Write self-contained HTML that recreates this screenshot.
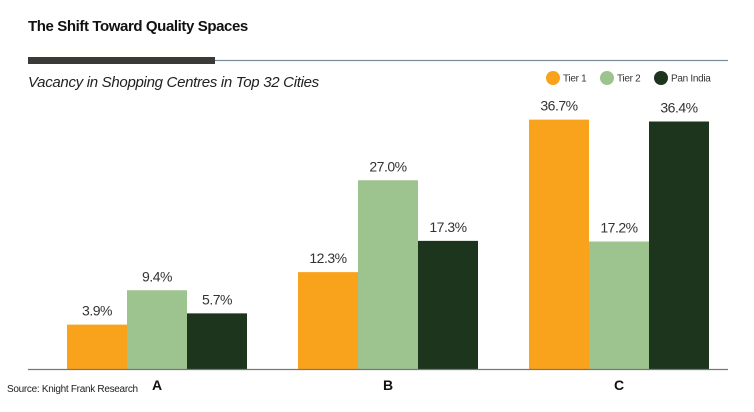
<!DOCTYPE html>
<html><head><meta charset="utf-8"><style>
body{margin:0;background:#fff;font-family:"Liberation Sans",sans-serif;}
svg text{font-family:"Liberation Sans",sans-serif;}
</style></head><body>
<svg width="754" height="407" viewBox="0 0 754 407">
<text x="28" y="31" font-size="15" font-weight="bold" fill="#111" letter-spacing="-0.4">The Shift Toward Quality Spaces</text>
<line x1="215" y1="60.5" x2="728" y2="60.5" stroke="#7a8fa0" stroke-width="1.2"/>
<rect x="28" y="57" width="187" height="7" fill="#3a3a38"/>
<text x="28" y="87" font-size="15" font-style="italic" fill="#222" letter-spacing="-0.3">Vacancy in Shopping Centres in Top 32 Cities</text>
<g id="legend"></g>
<g id="bars"></g>
<line x1="28" y1="369.5" x2="728" y2="369.5" stroke="#777" stroke-width="1.2"/>
<g id="xlabels"></g>
<text x="7" y="392" font-size="10" fill="#222" letter-spacing="-0.3">Source: Knight Frank Research</text>
</svg>
<script>
const categories = ["A","B","C"];
const seriesNames = ["Tier 1","Tier 2","Pan India"];
const tier1 = [3.9, 12.3, 36.7];
const tier2 = [9.4, 27.0, 17.2];
const panIndia = [5.7, 17.3, 36.4];
const colors = ["#f8a31b","#9dc48f","#1c351c"];
const series = [tier1, tier2, panIndia];
const NS = "http://www.w3.org/2000/svg";
const baseY = 369, pxPerUnit = 6.25, offsetPx = 20;
const groupStart = 67, groupStep = 231, barW = 60;
function yScale(v){ return baseY - (v > 0 ? offsetPx + v*pxPerUnit : 0); }
function xScale(ci, si){ return groupStart + ci*groupStep + si*barW; }
function mk(tag, attrs){ const e=document.createElementNS(NS,tag); for(const k in attrs) e.setAttribute(k,attrs[k]); return e; }
const bars = document.getElementById("bars");
series.forEach((vals, si) => {
  vals.forEach((v, ci) => {
    const r = mk("rect",{x:xScale(ci,si), y:yScale(v), width:barW, height:baseY-yScale(v), fill:colors[si]});
    
    
    bars.appendChild(r);
    const t = mk("text",{x:xScale(ci,si)+barW/2, y:yScale(v)-9, "font-size":14, fill:"#333", "text-anchor":"middle", "letter-spacing":"-0.5"});
    t.textContent = v.toFixed(1) + "%";
    
    
    bars.appendChild(t);
  });
});
const xl = document.getElementById("xlabels");
categories.forEach((c, ci) => {
  const t = mk("text",{x:xScale(ci,1)+barW/2, y:390, "font-size":14, "font-weight":"bold", fill:"#111", "text-anchor":"middle"});
  t.textContent = c;
  
  
  xl.appendChild(t);
});
const lg = document.getElementById("legend");
const legX = [553, 607, 661];
seriesNames.forEach((n, si) => {
  const c = mk("circle",{cx:legX[si], cy:78, r:7, fill:colors[si]});
  
  
  lg.appendChild(c);
  const t = mk("text",{x:legX[si]+10, y:81.5, "font-size":10, fill:"#333", "letter-spacing":"-0.3"});
  t.textContent = n;
  
  
  lg.appendChild(t);
});
</script>
</body></html>
